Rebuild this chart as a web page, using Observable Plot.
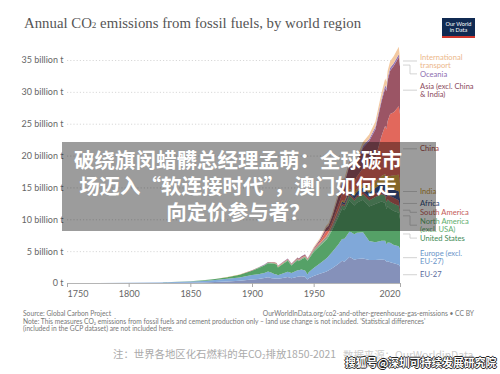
<!DOCTYPE html>
<html><head><meta charset="utf-8">
<script src="https://cdn.jsdelivr.net/npm/d3@7"></script>
<script src="https://cdn.jsdelivr.net/npm/@observablehq/plot@0.6"></script>
<style>
html,body{margin:0;padding:0;background:#fff;}
#root{position:relative;width:500px;height:374px;overflow:hidden;font-family:Lato,"Noto Sans",sans-serif;}
.abs{position:absolute;white-space:nowrap;}
#title{left:24px;top:15px;font-family:"Liberation Serif",serif;font-size:14.8px;color:#555;}
#title sub{font-size:0.62em;vertical-align:-0.05em;}
#logo{left:442px;top:18px;width:33px;height:20px;background:#102a52;color:#fff;font:5.6px/6px Lato,sans-serif;text-align:center;box-sizing:border-box;padding-top:3px;border-bottom:2px solid #d0362c;}
#chart{position:absolute;left:0;top:44px;}
.src{position:absolute;white-space:nowrap;font-size:6.7px;line-height:7.6px;color:#777;font-family:Lato,sans-serif;}
#ov{position:absolute;left:62px;top:142px;width:374px;height:89px;background:rgba(0,0,0,0.39);}
#ovt{position:absolute;left:38px;width:400px;top:146px;text-align:center;color:#fff;font-family:"Noto Sans CJK SC",sans-serif;font-weight:700;font-size:20.5px;line-height:26px;white-space:nowrap;}
.cn{position:absolute;white-space:nowrap;font-family:"Noto Sans CJK SC",sans-serif;}
.cn sub{font-size:0.6em;vertical-align:-0.2em;}
</style></head>
<body><div id="root">
<div id="title" class="abs">Annual CO<sub>2</sub> emissions from fossil fuels, by world region</div>
<div id="logo" class="abs">Our World<br>in Data</div>
<div id="chart"></div>
<div class="src" style="left:23px;top:309.5px">Source: Global Carbon Project</div>
<div class="src" style="right:26px;top:309.5px">OurWorldInData.org/co2-and-other-greenhouse-gas-emissions • CC BY</div>
<div class="src" style="left:23px;top:317.5px">Note: This measures CO₂ emissions from fossil fuels and cement production only – land use change is not included. 'Statistical differences'<br>(included in the GCP dataset) are not included here.</div>
<div class="cn" style="left:113px;top:346px;font-size:10.4px;color:#aaa;">注：世界各地区化石燃料的年CO<sub>2</sub>排放1850-2021</div>
<div class="cn" style="left:343px;top:347px;font-size:10.4px;color:#ccc;">数据来源：OurWorldinData</div>
<div class="cn" style="left:345px;top:354px;font-size:10.8px;font-weight:700;color:#fff;text-shadow:1px 0 0 #222,-1px 0 0 #222,0 1px 0 #222,0 -1px 0 #222;">搜狐号@深圳可持续发展研究院</div>
<div id="ov"></div>
<div id="ovt">破绕旗闵蜡髒总经理孟萌：全球碳市<br>场迈入“软连接时代”，澳门如何走<br>向定价参与者？</div>
</div>
<script>
const years = [1750,1775,1800,1825,1850,1860,1870,1880,1890,1900,1905,1910,1913,1916,1918,1920,1921,1925,1929,1932,1937,1938,1940,1943,1945,1946,1950,1955,1960,1962,1965,1970,1973,1975,1979,1980,1983,1985,1990,1995,2000,2005,2008,2009,2010,2012,2015,2019,2020];

// billion tonnes CO2, bottom to top of the stack
const eu27 = [0.001,0.002,0.005,0.015,0.05,0.09,0.15,0.24,0.35,0.55,
  0.63,0.78,0.9,0.75,0.72,0.7,0.65,0.8,0.95,0.75,
  1.0,1.02,1.05,1.0,0.55,0.75,1.1,1.45,1.75,1.95,
  2.3,3.0,3.5,3.35,4.1,4.0,3.65,3.75,3.85,3.6,
  3.6,3.7,3.6,3.3,3.4,3.25,3.1,2.85,2.6];
const europeOther = [0.009,0.015,0.03,0.06,0.17,0.24,0.32,0.42,0.52,0.7,
  0.75,0.8,0.9,0.85,0.7,0.65,0.55,0.7,0.8,0.8,
  1.0,1.0,1.05,0.95,0.8,0.95,1.25,1.6,2.05,2.25,
  2.55,3.05,3.4,3.6,3.95,4.0,4.0,4.15,4.1,3.0,
  2.8,2.95,3.05,2.8,2.95,3.05,2.85,2.9,2.75];
const unitedStates = [0,0.0005,0.002,0.005,0.04,0.08,0.15,0.25,0.42,0.66,
  0.95,1.15,1.3,1.45,1.6,1.55,1.25,1.5,1.75,1.2,
  1.6,1.4,1.6,2.05,2.15,2.05,2.5,2.75,2.9,3.05,
  3.45,4.3,4.75,4.45,4.95,4.8,4.5,4.7,5.1,5.4,
  6.0,6.13,5.92,5.48,5.68,5.35,5.37,5.26,4.69];
const northAmericaOther = [0,0,0,0,0.002,0.004,0.007,0.01,0.018,0.03,
  0.045,0.06,0.08,0.08,0.09,0.09,0.08,0.08,0.1,0.07,
  0.09,0.09,0.1,0.12,0.12,0.12,0.16,0.2,0.24,0.26,
  0.32,0.45,0.55,0.6,0.72,0.75,0.75,0.8,0.88,0.95,
  1.08,1.15,1.15,1.1,1.12,1.12,1.12,1.12,1.0];
const southAmerica = [0,0,0,0,0,0,0,0.001,0.003,0.006,
  0.008,0.012,0.015,0.012,0.012,0.015,0.015,0.02,0.025,0.02,
  0.03,0.03,0.03,0.03,0.035,0.04,0.06,0.09,0.12,0.14,
  0.16,0.22,0.26,0.28,0.34,0.35,0.33,0.35,0.42,0.52,
  0.62,0.68,0.78,0.75,0.82,0.88,0.93,0.85,0.78];
const africa = [0,0,0,0,0,0,0,0.001,0.002,0.004,
  0.006,0.008,0.012,0.012,0.013,0.015,0.015,0.018,0.022,0.02,
  0.028,0.03,0.035,0.04,0.045,0.045,0.06,0.08,0.12,0.13,
  0.16,0.24,0.28,0.31,0.4,0.46,0.52,0.56,0.63,0.68,
  0.82,1.0,1.12,1.12,1.18,1.22,1.32,1.42,1.32];
const india = [0,0,0,0,0.0005,0.001,0.002,0.004,0.007,0.015,
  0.02,0.025,0.03,0.03,0.035,0.035,0.035,0.04,0.045,0.04,
  0.05,0.055,0.06,0.06,0.06,0.055,0.07,0.085,0.12,0.14,
  0.16,0.2,0.23,0.26,0.3,0.31,0.37,0.42,0.58,0.78,
  0.98,1.2,1.47,1.6,1.68,1.93,2.24,2.6,2.44];
const china = [0,0,0,0,0,0,0,0,0,0.0005,
  0.002,0.005,0.008,0.01,0.012,0.015,0.015,0.02,0.025,0.03,
  0.04,0.04,0.06,0.07,0.04,0.05,0.08,0.2,0.78,0.44,
  0.53,0.77,0.95,1.15,1.5,1.47,1.65,1.95,2.48,3.35,
  3.66,6.26,7.58,8.0,8.6,9.72,9.86,10.74,10.96];
const asiaOther = [0,0,0,0,0.001,0.002,0.003,0.005,0.008,0.02,
  0.03,0.04,0.05,0.06,0.07,0.07,0.06,0.08,0.1,0.1,
  0.15,0.16,0.18,0.17,0.06,0.06,0.15,0.3,0.5,0.58,
  0.8,1.3,1.7,1.75,2.15,2.15,2.1,2.3,3.2,4.0,
  4.55,5.4,5.95,6.0,6.4,6.8,7.3,7.7,7.45];
const oceania = [0,0,0,0,0.0005,0.001,0.002,0.003,0.005,0.008,
  0.01,0.014,0.016,0.016,0.017,0.018,0.018,0.022,0.025,0.022,
  0.028,0.03,0.032,0.035,0.035,0.035,0.045,0.06,0.08,0.085,
  0.1,0.14,0.16,0.17,0.2,0.22,0.23,0.24,0.3,0.33,
  0.38,0.42,0.44,0.45,0.44,0.45,0.44,0.45,0.43];
const intlTransport = [0,0,0,0,0,0,0,0,0,0,
  0,0,0,0,0,0,0,0,0,0,
  0,0,0,0,0,0,0.17,0.22,0.3,0.32,
  0.38,0.5,0.55,0.52,0.58,0.56,0.5,0.52,0.6,0.68,
  0.8,0.95,1.05,1.0,1.05,1.05,1.1,1.2,0.85];

const regionNames = ["EU-27","Europe (excl. EU-27)","United States","North America (excl. USA)","South America","Africa","India","China","Asia (excl. China & India)","Oceania","International transport"];
const regionLabelText = ["EU-27","Europe (excl.\nEU-27)","United States","North America\n(excl. USA)","South America","Africa","India","China","Asia (excl. China\n& India)","Oceania","International\ntransport"];
const regionValues = [eu27, europeOther, unitedStates, northAmericaOther, southAmerica, africa, india, china, asiaOther, oceania, intlTransport];
const areaColors = ["#8591ba","#80a8d9","#55a167","#6cb37c","#c0605a","#3f5891","#d8a744","#e2685c","#9b5565","#9677b7","#f3c9a1"];
const labelColors = ["#5b6a9c","#6a94c9","#3e8a55","#5fae6d","#c45d59","#2f4a7a","#c8982f","#a64545","#8b4a5c","#8c6db0","#ecb88c"];

const yTicks = [0,5,10,15,20,25,30,35];
const xTicks = [1750,1800,1850,1900,1950,2020];

const data = [];
regionNames.forEach((r, k) => years.forEach((yr, i) => data.push({region: r, year: yr, value: regionValues[k][i]})));

const LH = 8.2;
function regionLabels(index, scales) {
  const x = scales.x, y = scales.y;
  const g = d3.create("svg:g").attr("font-family", "Lato, sans-serif").attr("font-size", 7.6).attr("text-anchor", "start");
  const last = years.length - 1;
  let cum = 0;
  const items = regionNames.map((r, k) => {
    const v = regionValues[k][last];
    const mid = y(cum + v / 2);
    cum += v;
    return {label: regionLabelText[k], color: labelColors[k], mid};
  });
  items.sort((a, b) => a.mid - b.mid);
  const x0 = x(years[last]);
  let prev = -Infinity;
  for (const it of items) {
    const lines = it.label.split("\n");
    const h = lines.length * LH;
    const top = Math.max(it.mid - h / 2, prev + 0.6);
    prev = top + h;
    const cy = top + h / 2;
    g.append("path")
      .attr("d", `M${x0 + 3},${it.mid}H${x0 + 10}V${cy}H${x0 + 17}`)
      .attr("fill", "none").attr("stroke", "#c8c8c8").attr("stroke-width", 0.8);
    const t = g.append("text").attr("fill", it.color).attr("text-anchor", "start");
    lines.forEach((ln, i) => t.append("tspan")
      .attr("x", x0 + 20).attr("y", top + LH * (i + 0.5)).attr("dy", "0.35em").text(ln));
  }
  return g.node();
}

const chart = Plot.plot({
  width: 500, height: 259,
  marginLeft: 67, marginRight: 100, marginTop: 16, marginBottom: 20,
  style: {fontFamily: "Lato, sans-serif", color: "#666", background: "transparent"},
  x: {domain: [1750, 2020], label: null},
  y: {domain: [0, 35], label: null},
  color: {domain: regionNames, range: areaColors},
  marks: [
    Plot.gridY(yTicks.filter(d => d > 0), {stroke: "#d8d8d8", strokeOpacity: 1, strokeDasharray: "1.2,2"}),
    Plot.areaY(data, {x: "year", y: "value", z: "region", fill: "region", order: regionNames}),
    Plot.ruleY([0], {stroke: "#b5b5b5"}),
    Plot.axisY({ticks: yTicks, tickSize: 0, tickPadding: 4, fontSize: 9, fill: "#666", label: null,
      tickFormat: d => d === 0 ? "0 t" : `${d} billion t`}),
    Plot.axisX({ticks: xTicks.slice(0, 1), tickSize: 4, tickPadding: 3, fontSize: 9, fill: "#666", stroke: "#aaa", label: null, textAnchor: "start", tickFormat: d => `${d}`}),
    Plot.axisX({ticks: xTicks.slice(1, -1), tickSize: 4, tickPadding: 3, fontSize: 9, fill: "#666", stroke: "#aaa", label: null, tickFormat: d => `${d}`}),
    Plot.axisX({ticks: xTicks.slice(-1), tickSize: 4, tickPadding: 3, fontSize: 9, fill: "#666", stroke: "#aaa", label: null, textAnchor: "end", tickFormat: d => `${d}`}),
    regionLabels
  ]
});
document.getElementById("chart").appendChild(chart);
</script>
</body></html>
